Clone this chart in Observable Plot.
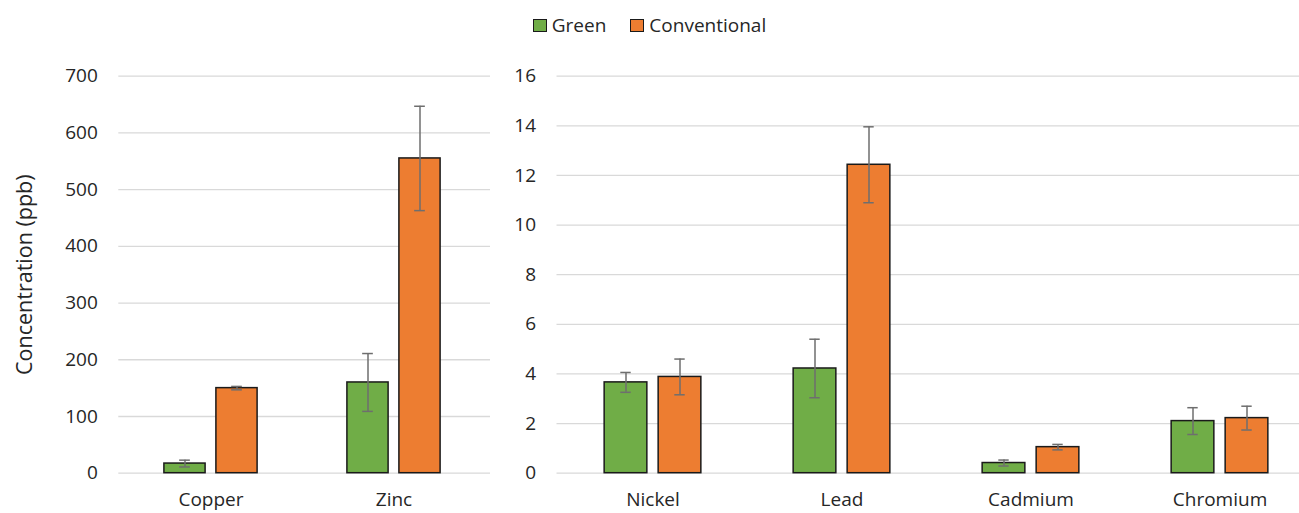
<!DOCTYPE html>
<html>
<head>
<meta charset="utf-8">
<script src="https://cdn.jsdelivr.net/npm/d3@7"></script>
<script src="https://cdn.jsdelivr.net/npm/@observablehq/plot@0.6"></script>
<style>
  html, body { margin: 0; padding: 0; background: #fff; }
  #wrap { width: 1299px; height: 513px; position: relative; overflow: hidden; font-family: "Open Sans", sans-serif; }
  #legend { height: 50px; display: flex; justify-content: center; align-items: center; font-size: 19px; color: #262626; }
  .item { display: flex; align-items: center; margin: 0 12px; }
  .sw { width: 12px; height: 11px; border: 1.5px solid #1a1a1a; margin-right: 5px; }
  #row { display: flex; }
  #row svg { display: block; }
</style>
</head>
<body>
<div id="wrap">
  <div id="legend"></div>
  <div id="row"></div>
</div>
<script>
// ---- data ----
const seriesNames = ["Green", "Conventional"];
const seriesColors = ["#70AD47", "#ED7D31"];

const leftMetals = ["Copper", "Zinc"];
const leftGreen = [17, 160];
const leftGreenErr = [6, 51];
const leftConv = [150, 555];
const leftConvErr = [3, 92];
const leftTicks = [0, 100, 200, 300, 400, 500, 600, 700];

const rightMetals = ["Nickel", "Lead", "Cadmium", "Chromium"];
const rightGreen = [3.66, 4.22, 0.41, 2.10];
const rightGreenErr = [0.40, 1.18, 0.12, 0.54];
const rightConv = [3.88, 12.43, 1.05, 2.22];
const rightConvErr = [0.72, 1.53, 0.11, 0.48];
const rightTicks = [0, 2, 4, 6, 8, 10, 12, 14, 16];

const yLabel = "Concentration (ppb)";

// ---- legend ----
const legend = document.getElementById("legend");
seriesNames.forEach((s, i) => {
  const it = document.createElement("div");
  it.className = "item";
  const sw = document.createElement("div");
  sw.className = "sw";
  sw.style.background = seriesColors[i];
  const t = document.createElement("span");
  t.textContent = s;
  it.appendChild(sw); it.appendChild(t);
  legend.appendChild(it);
});

function rows(metals, g, ge, c, ce) {
  return metals.map((m, i) => ({metal: m, g: g[i], ge: ge[i], c: c[i], ce: ce[i]}));
}

function panel({data, metals, domain, ticks, width, height, marginLeft, step, barW, gap, withLabel}) {
  const half = step / 2;
  const gCenter = -(gap / 2 + barW / 2);
  const cCenter = gap / 2 + barW / 2;
  const capHalf = 5.5;
  const errColor = "#6e6e6e";
  const marks = [
    Plot.ruleY(ticks, {stroke: "#d9d9d9", strokeWidth: 1.3}),
    Plot.barY(data, {x: "metal", y1: 0, y2: "g", fill: seriesColors[0], stroke: "#1a1a1a", strokeWidth: 1.5,
      insetLeft: half - gap / 2 - barW, insetRight: half + gap / 2}),
    Plot.barY(data, {x: "metal", y1: 0, y2: "c", fill: seriesColors[1], stroke: "#1a1a1a", strokeWidth: 1.5,
      insetLeft: half + gap / 2, insetRight: half - gap / 2 - barW}),
    Plot.ruleX(data, {x: "metal", y1: d => d.g - d.ge, y2: d => d.g + d.ge, dx: gCenter, stroke: errColor, strokeWidth: 1.5}),
    Plot.ruleX(data, {x: "metal", y1: d => d.c - d.ce, y2: d => d.c + d.ce, dx: cCenter, stroke: errColor, strokeWidth: 1.5}),
    Plot.tickY(data, {x: "metal", y: d => d.g + d.ge, stroke: errColor, strokeWidth: 1.5, insetLeft: half + gCenter - capHalf, insetRight: half - gCenter - capHalf}),
    Plot.tickY(data, {x: "metal", y: d => d.g - d.ge, stroke: errColor, strokeWidth: 1.5, insetLeft: half + gCenter - capHalf, insetRight: half - gCenter - capHalf}),
    Plot.tickY(data, {x: "metal", y: d => d.c + d.ce, stroke: errColor, strokeWidth: 1.5, insetLeft: half + cCenter - capHalf, insetRight: half - cCenter - capHalf}),
    Plot.tickY(data, {x: "metal", y: d => d.c - d.ce, stroke: errColor, strokeWidth: 1.5, insetLeft: half + cCenter - capHalf, insetRight: half - cCenter - capHalf})
  ];
  if (withLabel) {
    marks.push(Plot.text([yLabel], {text: d => d, frameAnchor: "left", textAnchor: "middle", lineAnchor: "middle", dx: 25 - marginLeft, rotate: -90, fontSize: 21.5, fill: "#262626"}));
  }
  return Plot.plot({
    width, height,
    marginLeft, marginRight: 0, marginTop: 25.7, marginBottom: 40.3,
    style: {fontFamily: "Open Sans", fontSize: "19px", color: "#262626", background: "transparent", overflow: "visible"},
    x: {domain: metals, range: [marginLeft, marginLeft + step * metals.length], padding: 0, tickSize: 0, tickPadding: 19, label: null},
    y: {domain, ticks, tickSize: 0, tickPadding: 21, label: null},
    marks
  });
}

const row = document.getElementById("row");
row.appendChild(panel({
  data: rows(leftMetals, leftGreen, leftGreenErr, leftConv, leftConvErr),
  metals: leftMetals, domain: [0, 700], ticks: leftTicks,
  width: 490, height: 463, marginLeft: 118.3, step: 183.3, barW: 41.5, gap: 10.5, withLabel: true
}));
row.appendChild(panel({
  data: rows(rightMetals, rightGreen, rightGreenErr, rightConv, rightConvErr),
  metals: rightMetals, domain: [0, 16], ticks: rightTicks,
  width: 809, height: 463, marginLeft: 66.5, step: 189.6, barW: 43.3, gap: 10.7, withLabel: false
}));
</script>
</body>
</html>
